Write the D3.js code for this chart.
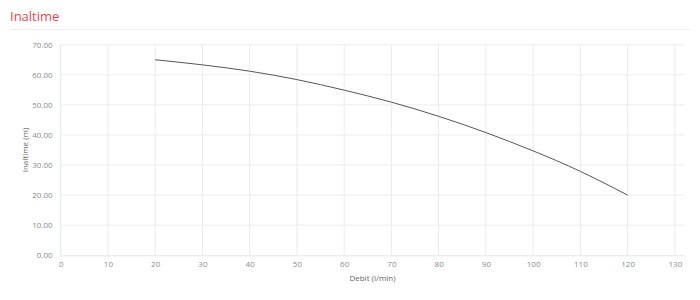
<!DOCTYPE html>
<html lang="ro">
<head>
<meta charset="utf-8">
<title>Inaltime</title>
<script src="https://d3js.org/d3.v7.min.js"></script>
<style>
  body { margin: 0; background: #fff; font-family: "Open Sans", sans-serif; }
  .tick text { fill: #8a8a8a; font-size: 8px; font-family: "Open Sans", sans-serif; }
  .label-axis { fill: #666; font-size: 8px; }
</style>
</head>
<body>
<div id="chart"></div>
<script>
// data
var debit    = [20, 30, 40, 50, 60, 70, 80, 90, 100, 110, 120];
var inaltime = [65, 63.3, 61.2, 58.4, 54.9, 50.9, 46.2, 40.8, 34.7, 27.9, 20];
var xTicks = [0, 10, 20, 30, 40, 50, 60, 70, 80, 90, 100, 110, 120, 130];
var yTicks = [0, 10, 20, 30, 40, 50, 60, 70];

var w_view = 700, h_view = 300;
var m = {top: 44.7, right: 15.7, bottom: 44.7, left: 60.7};

var svg = d3.select("#chart").append("svg")
    .attr("width", w_view)
    .attr("height", h_view);

// title + separator
svg.append("text")
   .attr("x", 10).attr("y", 21)
   .style("fill", "#e5474f")
   .style("font-size", "13px")
   .text("Inaltime");
svg.append("line")
   .attr("x1", 10).attr("x2", 691)
   .attr("y1", 29.5).attr("y2", 29.5)
   .style("stroke", "#eeeeee");

var x = d3.scaleLinear().domain([0, 132]).range([m.left, w_view - m.right]);
var y = d3.scaleLinear().domain([0, 70]).range([h_view - m.bottom, m.top]);

// grid
svg.append("g")
   .selectAll("line")
   .data(yTicks.slice(1))
   .join("line")
   .attr("x1", m.left).attr("x2", w_view - m.right)
   .attr("y1", d => y(d)).attr("y2", d => y(d))
   .style("stroke", "#ededed");
svg.append("g")
   .selectAll("line")
   .data(xTicks)
   .join("line")
   .attr("x1", d => x(d)).attr("x2", d => x(d))
   .attr("y1", m.top).attr("y2", h_view - m.bottom)
   .style("stroke", d => d === 0 ? "#e0e6f1" : "#ebebef");

// axes
var xAxis = svg.append("g")
   .attr("transform", "translate(0," + (h_view - m.bottom) + ")")
   .call(d3.axisBottom(x).tickValues(xTicks).tickSize(0).tickPadding(6));
xAxis.select(".domain").style("stroke", "#dfe4ee");

var yAxis = svg.append("g")
   .attr("transform", "translate(" + m.left + ",0)")
   .call(d3.axisLeft(y).tickValues(yTicks).tickFormat(d3.format(".2f")).tickSize(0).tickPadding(8));
yAxis.select(".domain").remove();

// axis labels
svg.append("text")
   .attr("class", "label-axis")
   .attr("x", (m.left + w_view - m.right) / 2)
   .attr("y", 281)
   .style("text-anchor", "middle")
   .text("Debit (l/min)");
svg.append("text")
   .attr("class", "label-axis")
   .attr("transform", "rotate(-90)")
   .attr("x", -(m.top + h_view - m.bottom) / 2)
   .attr("y", 28)
   .style("text-anchor", "middle")
   .text("Inaltime (m)");

// curve
var pts = debit.map((d, i) => [d, inaltime[i]]);
svg.append("path")
   .datum(pts)
   .attr("d", d3.line().x(d => x(d[0])).y(d => y(d[1])).curve(d3.curveNatural))
   .style("fill", "none")
   .style("stroke", "#555")
   .style("stroke-width", 1);
</script>
</body>
</html>
